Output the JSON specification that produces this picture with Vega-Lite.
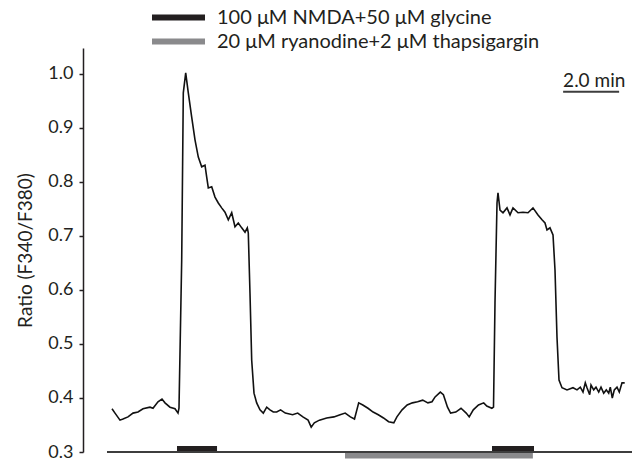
{
  "$schema": "https://vega.github.io/schema/vega-lite/v6.json",
  "width": 549,
  "height": 404,
  "autosize": {"type": "none"},
  "padding": {"left": 83, "top": 48, "right": 5, "bottom": 10},
  "background": "white",
  "config": {
    "view": {"stroke": null},
    "font": "Lato",
    "legend": {
      "orient": "none",
      "legendX": 66,
      "legendY": -41.5,
      "padding": 0,
      "symbolType": "stroke",
      "symbolSize": 2809,
      "symbolStrokeWidth": 6,
      "clipHeight": 22,
      "rowPadding": 2,
      "labelFontSize": 20,
      "labelFont": "Lato",
      "labelColor": "#231f20",
      "labelOffset": 9,
      "labelLimit": 0
    }
  },
  "datasets": {
    "trace": [
      {"t": 0.179, "r": 0.380}, {"t": 0.286, "r": 0.372}, {"t": 0.464, "r": 0.359}, {"t": 0.571, "r": 0.361},
      {"t": 0.75, "r": 0.365}, {"t": 0.929, "r": 0.372}, {"t": 1.107, "r": 0.374}, {"t": 1.286, "r": 0.380},
      {"t": 1.536, "r": 0.383}, {"t": 1.643, "r": 0.381}, {"t": 1.821, "r": 0.393}, {"t": 1.964, "r": 0.398},
      {"t": 2.071, "r": 0.391}, {"t": 2.25, "r": 0.383}, {"t": 2.429, "r": 0.380}, {"t": 2.536, "r": 0.372},
      {"t": 2.571, "r": 0.381}, {"t": 2.668, "r": 0.656}, {"t": 2.725, "r": 0.965}, {"t": 2.811, "r": 1.002},
      {"t": 2.904, "r": 0.965}, {"t": 3.025, "r": 0.920}, {"t": 3.143, "r": 0.878}, {"t": 3.261, "r": 0.846},
      {"t": 3.382, "r": 0.828}, {"t": 3.5, "r": 0.831}, {"t": 3.561, "r": 0.809}, {"t": 3.618, "r": 0.789},
      {"t": 3.739, "r": 0.791}, {"t": 3.857, "r": 0.772}, {"t": 3.975, "r": 0.761}, {"t": 4.096, "r": 0.752},
      {"t": 4.214, "r": 0.744}, {"t": 4.332, "r": 0.730}, {"t": 4.454, "r": 0.743}, {"t": 4.571, "r": 0.717},
      {"t": 4.689, "r": 0.724}, {"t": 4.811, "r": 0.715}, {"t": 4.929, "r": 0.707}, {"t": 5.011, "r": 0.715},
      {"t": 5.046, "r": 0.706}, {"t": 5.107, "r": 0.594}, {"t": 5.168, "r": 0.470}, {"t": 5.25, "r": 0.409},
      {"t": 5.346, "r": 0.391}, {"t": 5.464, "r": 0.378}, {"t": 5.582, "r": 0.372}, {"t": 5.704, "r": 0.383},
      {"t": 5.821, "r": 0.378}, {"t": 5.939, "r": 0.374}, {"t": 6.061, "r": 0.374}, {"t": 6.2, "r": 0.378},
      {"t": 6.368, "r": 0.372}, {"t": 6.629, "r": 0.369}, {"t": 6.811, "r": 0.372}, {"t": 6.996, "r": 0.365},
      {"t": 7.182, "r": 0.359}, {"t": 7.293, "r": 0.346}, {"t": 7.404, "r": 0.354}, {"t": 7.586, "r": 0.359},
      {"t": 7.846, "r": 0.363}, {"t": 8.104, "r": 0.365}, {"t": 8.325, "r": 0.369}, {"t": 8.507, "r": 0.372},
      {"t": 8.693, "r": 0.365}, {"t": 8.839, "r": 0.361}, {"t": 8.989, "r": 0.391}, {"t": 9.136, "r": 0.387},
      {"t": 9.321, "r": 0.381}, {"t": 9.504, "r": 0.374}, {"t": 9.689, "r": 0.369}, {"t": 9.875, "r": 0.363},
      {"t": 10.057, "r": 0.356}, {"t": 10.243, "r": 0.354}, {"t": 10.354, "r": 0.365}, {"t": 10.539, "r": 0.378},
      {"t": 10.721, "r": 0.387}, {"t": 10.907, "r": 0.391}, {"t": 11.093, "r": 0.393}, {"t": 11.275, "r": 0.396},
      {"t": 11.461, "r": 0.391}, {"t": 11.607, "r": 0.393}, {"t": 11.718, "r": 0.402}, {"t": 11.904, "r": 0.411},
      {"t": 12.014, "r": 0.406}, {"t": 12.161, "r": 0.383}, {"t": 12.271, "r": 0.372}, {"t": 12.457, "r": 0.374},
      {"t": 12.643, "r": 0.381}, {"t": 12.829, "r": 0.372}, {"t": 12.936, "r": 0.365}, {"t": 13.082, "r": 0.378},
      {"t": 13.268, "r": 0.387}, {"t": 13.454, "r": 0.391}, {"t": 13.564, "r": 0.385}, {"t": 13.746, "r": 0.381},
      {"t": 13.804, "r": 0.383}, {"t": 13.857, "r": 0.576}, {"t": 13.929, "r": 0.761}, {"t": 13.964, "r": 0.780},
      {"t": 14.036, "r": 0.748}, {"t": 14.143, "r": 0.743}, {"t": 14.286, "r": 0.752}, {"t": 14.393, "r": 0.739},
      {"t": 14.5, "r": 0.752}, {"t": 14.679, "r": 0.743}, {"t": 14.857, "r": 0.744}, {"t": 15.036, "r": 0.743},
      {"t": 15.214, "r": 0.752}, {"t": 15.393, "r": 0.739}, {"t": 15.536, "r": 0.730}, {"t": 15.643, "r": 0.724},
      {"t": 15.714, "r": 0.711}, {"t": 15.821, "r": 0.715}, {"t": 15.929, "r": 0.702}, {"t": 16.0, "r": 0.637},
      {"t": 16.071, "r": 0.513}, {"t": 16.143, "r": 0.433}, {"t": 16.25, "r": 0.419}, {"t": 16.429, "r": 0.415},
      {"t": 16.643, "r": 0.419}, {"t": 16.786, "r": 0.415}, {"t": 16.904, "r": 0.420}, {"t": 17.0, "r": 0.411},
      {"t": 17.082, "r": 0.428}, {"t": 17.143, "r": 0.419}, {"t": 17.239, "r": 0.406}, {"t": 17.286, "r": 0.424},
      {"t": 17.382, "r": 0.415}, {"t": 17.464, "r": 0.420}, {"t": 17.561, "r": 0.411}, {"t": 17.643, "r": 0.420},
      {"t": 17.739, "r": 0.409}, {"t": 17.832, "r": 0.415}, {"t": 17.918, "r": 0.409}, {"t": 17.975, "r": 0.420},
      {"t": 18.046, "r": 0.400}, {"t": 18.118, "r": 0.415}, {"t": 18.214, "r": 0.420}, {"t": 18.296, "r": 0.411},
      {"t": 18.393, "r": 0.428}, {"t": 18.489, "r": 0.428}
    ],
    "periods": [
      {"treatment": "100 μM NMDA+50 μM glycine", "start": 2.5, "end": 3.93},
      {"treatment": "100 μM NMDA+50 μM glycine", "start": 13.75, "end": 15.25},
      {"treatment": "20 μM ryanodine+2 μM thapsigargin", "start": 8.5, "end": 15.21}
    ],
    "baseline": [{"start": 0, "end": 18.75, "level": 0.3}],
    "scalebar": [{"label": "2.0 min", "start": 16.29, "end": 18.29, "level": 0.967}]
  },
  "layer": [
    {
      "data": {"name": "trace"},
      "mark": {"type": "line", "color": "#111111", "strokeWidth": 1.6},
      "encoding": {
        "x": {"field": "t", "type": "quantitative", "scale": {"domain": [-0.857, 18.75], "nice": false, "zero": false}, "axis": null},
        "y": {
          "field": "r",
          "type": "quantitative",
          "scale": {"domain": [0.3, 1.048], "nice": false, "zero": false},
          "axis": {
            "values": [0.3, 0.4, 0.5, 0.6, 0.7, 0.8, 0.9, 1.0],
            "format": ".1f",
            "title": "Ratio (F340/F380)",
            "titleFont": "Lato",
            "titleFontSize": 19,
            "titleFontWeight": "normal",
            "titleColor": "#231f20",
            "titlePadding": 12,
            "labelFont": "Lato",
            "labelFontSize": 18,
            "labelColor": "#231f20",
            "labelPadding": 6,
            "labelFlush": false,
            "tickSize": 4,
            "tickWidth": 1.5,
            "tickColor": "#231f20",
            "domainColor": "#231f20",
            "domainWidth": 1.5,
            "grid": false
          }
        }
      }
    },
    {
      "data": {"name": "periods"},
      "transform": [{"filter": "indexof(datum.treatment, 'ryanodine') >= 0"}],
      "mark": {"type": "rule", "strokeWidth": 6, "yOffset": 3.5, "strokeCap": "butt"},
      "encoding": {
        "x": {"field": "start", "type": "quantitative"},
        "x2": {"field": "end"},
        "y": {"datum": 0.3, "type": "quantitative"},
        "color": {
          "field": "treatment",
          "type": "nominal",
          "scale": {"domain": ["100 μM NMDA+50 μM glycine", "20 μM ryanodine+2 μM thapsigargin"], "range": ["#231f20", "#8a8a8c"]},
          "legend": {"title": null}
        }
      }
    },
    {
      "data": {"name": "periods"},
      "transform": [{"filter": "indexof(datum.treatment, 'NMDA') >= 0"}],
      "mark": {"type": "rule", "strokeWidth": 6, "yOffset": -3, "strokeCap": "butt"},
      "encoding": {
        "x": {"field": "start", "type": "quantitative"},
        "x2": {"field": "end"},
        "y": {"datum": 0.3, "type": "quantitative"},
        "color": {"field": "treatment", "type": "nominal"}
      }
    },
    {
      "data": {"name": "baseline"},
      "mark": {"type": "rule", "strokeWidth": 2, "color": "#3d3d3d", "strokeCap": "butt"},
      "encoding": {
        "x": {"field": "start", "type": "quantitative"},
        "x2": {"field": "end"},
        "y": {"field": "level", "type": "quantitative"}
      }
    },
    {
      "data": {"name": "scalebar"},
      "mark": {"type": "rule", "strokeWidth": 1.8, "color": "#3d3d3d", "strokeCap": "butt"},
      "encoding": {
        "x": {"field": "start", "type": "quantitative"},
        "x2": {"field": "end"},
        "y": {"field": "level", "type": "quantitative"}
      }
    },
    {
      "data": {"name": "scalebar"},
      "mark": {"type": "text", "align": "left", "baseline": "alphabetic", "dy": -5, "fontSize": 19, "font": "Lato", "color": "#231f20"},
      "encoding": {
        "x": {"field": "start", "type": "quantitative"},
        "y": {"field": "level", "type": "quantitative"},
        "text": {"field": "label"}
      }
    }
  ]
}
